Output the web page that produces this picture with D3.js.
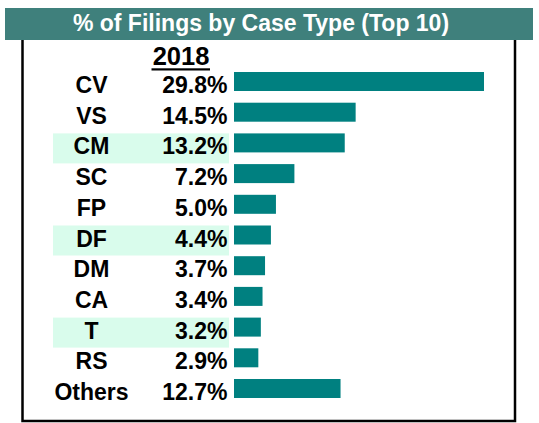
<!DOCTYPE html>
<html>
<head>
<meta charset="utf-8">
<script src="https://cdn.jsdelivr.net/npm/d3@7"></script>
<style>
  body { margin: 0; background: #fff; }
  text { font-family: "Liberation Sans", Arial, sans-serif; font-weight: bold; }
</style>
</head>
<body>
<div class="chart"></div>
<script>
const w = 539;
const h = 423;

const caseTypes = ["CV", "VS", "CM", "SC", "FP", "DF", "DM", "CA", "T", "RS", "Others"];
const pct2018 = [29.8, 14.5, 13.2, 7.2, 5.0, 4.4, 3.7, 3.4, 3.2, 2.9, 12.7];
const shaded = ["CM", "DF", "T"];
const title = "% of Filings by Case Type (Top 10)";
const yearLabel = "2018";

const svg = d3.select(".chart")
              .append("svg")
              .attr("width", w)
              .attr("height", h);

// frame (top edge sits under the title bar)
svg.append("rect")
   .attr("x", 22.5)
   .attr("y", 30)
   .attr("width", 492.5)
   .attr("height", 391)
   .attr("fill", "none")
   .attr("stroke", "#000")
   .attr("stroke-width", 2.5);

svg.append("rect")
   .attr("x", 5)
   .attr("y", 8)
   .attr("width", 528)
   .attr("height", 32)
   .attr("fill", "#3f807c");

svg.append("text")
   .attr("x", 261)
   .attr("y", 31)
   .attr("text-anchor", "middle")
   .attr("fill", "#fff")
   .style("font-size", "23px")
   .text(title);

const xScale = d3.scaleLinear()
                 .domain([0, 29.8])
                 .range([234, 484]);

const yScale = d3.scalePoint()
                 .domain(caseTypes)
                 .range([81.5, 388.5]);

const barH = 19;

// light bands behind some rows
svg.selectAll("rect.band")
   .data(shaded)
   .enter()
   .append("rect")
   .attr("class", "band")
   .attr("x", 53)
   .attr("y", d => yScale(d) - 9.5)
   .attr("width", 176)
   .attr("height", 30)
   .attr("fill", "#d9fcec");

svg.append("text")
   .attr("x", 181)
   .attr("y", 65)
   .attr("text-anchor", "middle")
   .attr("fill", "#000")
   .style("font-size", "25.5px")
   .text(yearLabel);

svg.append("rect")
   .attr("x", 151.5)
   .attr("y", 68.3)
   .attr("width", 58.5)
   .attr("height", 2.2)
   .attr("fill", "#000");

svg.selectAll("text.cat")
   .data(caseTypes)
   .enter()
   .append("text")
   .attr("class", "cat")
   .attr("x", 91.5)
   .attr("y", d => yScale(d) + 11.5)
   .attr("text-anchor", "middle")
   .attr("fill", "#000")
   .style("font-size", "23px")
   .text(d => d);

svg.selectAll("text.pct")
   .data(pct2018)
   .enter()
   .append("text")
   .attr("class", "pct")
   .attr("x", 227.5)
   .attr("y", (d, i) => yScale(caseTypes[i]) + 11.5)
   .attr("text-anchor", "end")
   .attr("fill", "#000")
   .style("font-size", "23px")
   .text(d => d.toFixed(1) + "%");

svg.selectAll("rect.bar")
   .data(pct2018)
   .enter()
   .append("rect")
   .attr("class", "bar")
   .attr("x", xScale(0))
   .attr("y", (d, i) => yScale(caseTypes[i]) - barH / 2)
   .attr("width", d => xScale(d) - xScale(0))
   .attr("height", barH)
   .attr("fill", "#008080");
</script>
</body>
</html>
